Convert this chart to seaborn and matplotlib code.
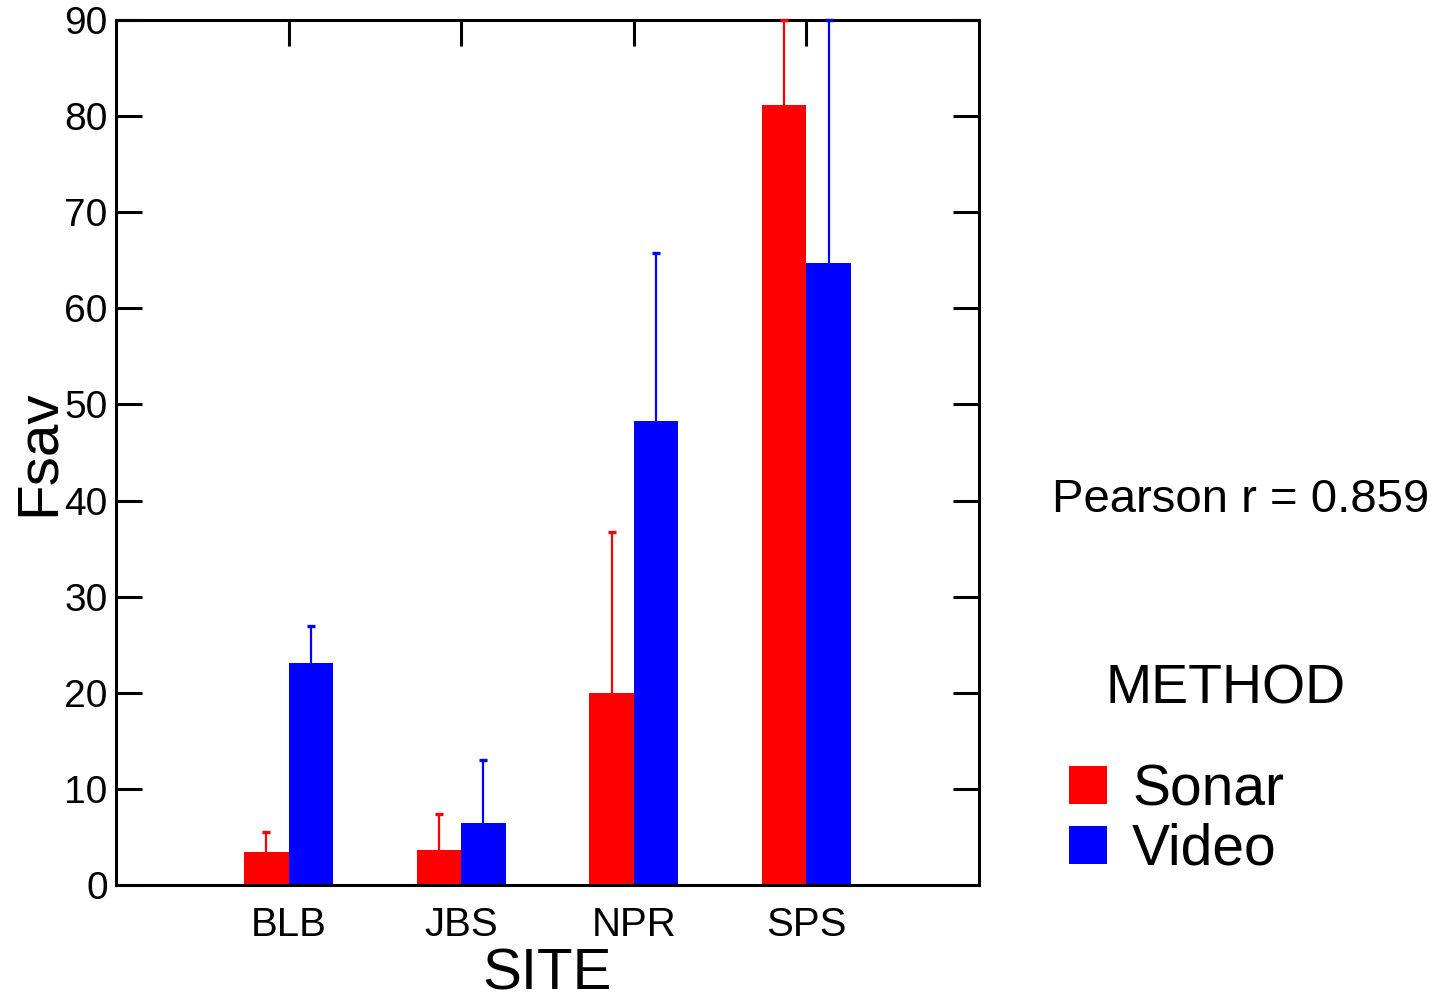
import matplotlib
matplotlib.use("Agg")
import matplotlib.pyplot as plt
import seaborn as sns
import pandas as pd
from matplotlib.patches import Patch

sites = ["BLB", "JBS", "NPR", "SPS"]
methods = ["Sonar", "Video"]
sonar_mean = [3.4, 3.6, 20.0, 81.2]
sonar_upper = [5.5, 7.4, 36.7, 90.0]
video_mean = [23.1, 6.5, 48.3, 64.7]
video_upper = [26.9, 13.0, 65.8, 90.0]
colors = {"Sonar": "#ff0000", "Video": "#0000ff"}
yticks = [0, 10, 20, 30, 40, 50, 60, 70, 80, 90]
pearson_text = "Pearson r = 0.859"

sns.set_theme(style="ticks")
plt.rcParams["font.family"] = ["Liberation Sans", "DejaVu Sans"]
plt.rcParams["text.color"] = "black"
plt.rcParams["axes.labelcolor"] = "black"
plt.rcParams["xtick.color"] = "black"
plt.rcParams["ytick.color"] = "black"

df = pd.DataFrame({
    "SITE": sites * 2,
    "METHOD": ["Sonar"] * 4 + ["Video"] * 4,
    "Fsav": sonar_mean + video_mean,
    "upper": sonar_upper + video_upper,
})

fig = plt.figure(figsize=(14.43, 10.01), dpi=100)
ax = fig.add_axes([116 / 1443, 1 - 885 / 1001, (979 - 116) / 1443, (885 - 20) / 1001])

sns.barplot(data=df, x="SITE", y="Fsav", hue="METHOD", order=sites,
            hue_order=methods, palette=colors, width=0.515, errorbar=None,
            saturation=1, linewidth=0, legend=False, ax=ax)

# upper error bars, positioned from the drawn bars
for container, m in zip(ax.containers, methods):
    sub = df[df.METHOD == m].set_index("SITE").loc[sites]
    for bar, mean, up in zip(container, sub["Fsav"], sub["upper"]):
        xc = bar.get_x() + bar.get_width() / 2
        ax.errorbar([xc], [mean], yerr=[[0], [up - mean]], fmt="none",
                    ecolor=colors[m], elinewidth=1.6, capsize=0,
                    clip_on=False, zorder=3)
        ax.plot([xc], [up], marker="_", markersize=6, markeredgewidth=2.4,
                color=colors[m], clip_on=False, zorder=3)

ax.set_xlim(-1, 4)
ax.set_ylim(0, 90)
ax.set_yticks(yticks)
ax.set_yticklabels([str(v) for v in yticks], fontsize=28)
ax.tick_params(axis="y", direction="in", length=19, width=2.2, left=True,
               right=True, pad=6)
ax.tick_params(axis="x", direction="in", length=19, width=2.2, top=True,
               bottom=False, pad=15, labelsize=29)
for s in ax.spines.values():
    s.set_linewidth(2.2)
    s.set_color("black")
    s.set_visible(True)

ax.set_xlabel("SITE", fontsize=42, labelpad=3)
ax.set_ylabel("Fsav", fontsize=42, labelpad=-1)

fig.text(1052 / 1443, 1 - 500 / 1001, pearson_text, fontsize=34,
         ha="left", va="center")
fig.text(1105 / 1443, 1 - 689 / 1001, "METHOD", fontsize=40,
         ha="left", va="center")

handles = [Patch(facecolor=colors[m], edgecolor="none") for m in methods]
leg = fig.legend(handles, methods, loc="upper left",
                 bbox_to_anchor=(1069 / 1443, 1 - 763 / 1001),
                 frameon=False, prop={"size": 41},
                 handlelength=0.66, handleheight=0.66, handletextpad=0.45,
                 labelspacing=0.1, borderpad=0, borderaxespad=0)

fig.savefig("out.png", dpi=100)
